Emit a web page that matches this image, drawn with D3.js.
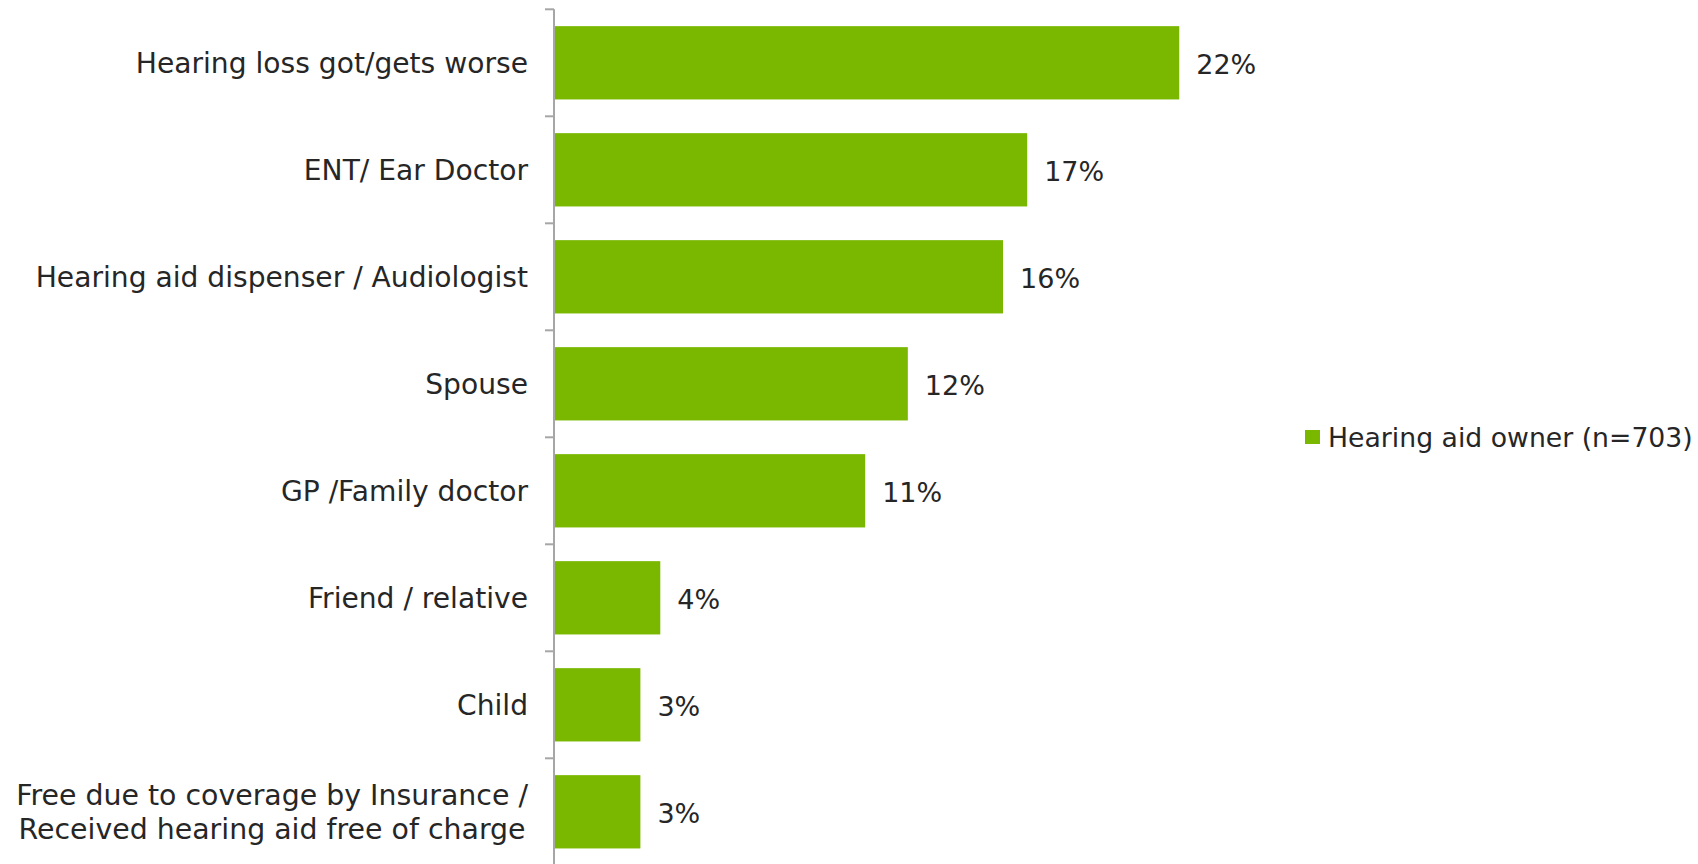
<!DOCTYPE html>
<html>
<head>
<meta charset="utf-8">
<script src="https://cdn.jsdelivr.net/npm/d3@7"></script>
<style>
  html, body { margin: 0; padding: 0; background: #ffffff; }
  svg { display: block; font-family: "DejaVu Sans", Verdana, sans-serif; }
</style>
</head>
<body>
<svg id="chart" width="1698" height="864"></svg>
<script>
// ---- data ----
const categories = [
  "Hearing loss got/gets worse",
  "ENT/ Ear Doctor",
  "Hearing aid dispenser / Audiologist",
  "Spouse",
  "GP /Family doctor",
  "Friend / relative",
  "Child",
  "Free due to coverage by Insurance /\nReceived hearing aid free of charge"
];
const values = [22.0, 16.65, 15.8, 12.45, 10.95, 3.74, 3.04, 3.04];
const seriesName = "Hearing aid owner (n=703)";

// ---- layout ----
const W = 1698, H = 864;
const axisX = 554;
const barColor = "#7AB800";
const textColor = "#262626";
const axisColor = "#a6a6a6";

const svg = d3.select("#chart");
svg.append("rect").attr("width", W).attr("height", H).attr("fill", "#fff");

const y = d3.scaleBand()
  .domain(categories)
  .range([9.3, 9.3 + 8 * 107])
  .paddingInner(0.315)
  .paddingOuter(0.1575);

const x = d3.scaleLinear()
  .domain([0, 25])
  .range([axisX, axisX + 25 * 28.42]);

const fmt = v => d3.format(".0f")(v) + "%";

// bars
svg.append("g").selectAll("rect")
  .data(values)
  .join("rect")
  .attr("x", x(0))
  .attr("y", (d, i) => y(categories[i]))
  .attr("width", d => x(d) - x(0))
  .attr("height", y.bandwidth())
  .attr("fill", barColor);

// value labels
svg.append("g").selectAll("text")
  .data(values)
  .join("text")
  .attr("x", d => x(d) + 17)
  .attr("y", (d, i) => y(categories[i]) + y.bandwidth() / 2 + 11)
  .attr("font-size", 27)
  .attr("fill", textColor)
  .text(d => fmt(d));

// axis line and ticks at band boundaries
const step = y.step();
const gap = step * y.paddingInner();
const boundaries = categories.map(c => y(c) - gap / 2);
boundaries.push(y(categories[categories.length - 1]) + y.bandwidth() + gap / 2);

const axisG = svg.append("g");
axisG.append("line")
  .attr("x1", axisX).attr("x2", axisX)
  .attr("y1", boundaries[0]).attr("y2", H)
  .attr("stroke", axisColor).attr("stroke-width", 2);
axisG.selectAll("line.tick")
  .data(boundaries)
  .join("line")
  .attr("class", "tick")
  .attr("x1", axisX - 9).attr("x2", axisX)
  .attr("y1", d => d).attr("y2", d => d)
  .attr("stroke", axisColor).attr("stroke-width", 2);

// category labels
const labelRight = 528;
const lineH = 33.5;
const catG = svg.append("g");
categories.forEach(c => {
  const lines = c.split("\n");
  const cy = y(c) + y.bandwidth() / 2;
  const t = catG.append("text")
    .attr("font-size", 28.15)
    .attr("fill", textColor);
  const spans = lines.map((ln, j) => t.append("tspan")
    .attr("y", cy + 10.4 + (j - (lines.length - 1) / 2) * lineH)
    .text(ln));
  if (lines.length === 1) {
    t.attr("text-anchor", "end");
    spans[0].attr("x", labelRight);
  } else {
    t.attr("font-size", 28.4);
    const widths = spans.map(s => s.node().getComputedTextLength());
    const maxW = d3.max(widths);
    const center = labelRight - maxW / 2;
    t.attr("text-anchor", "middle");
    spans.forEach(s => s.attr("x", center));
  }
});

// legend
const lg = svg.append("g");
lg.append("rect")
  .attr("x", 1305).attr("y", 430)
  .attr("width", 15).attr("height", 14)
  .attr("fill", barColor);
lg.append("text")
  .attr("x", 1328).attr("y", 446.5)
  .attr("font-size", 26.7)
  .attr("fill", textColor)
  .text(seriesName);
</script>
</body>
</html>
